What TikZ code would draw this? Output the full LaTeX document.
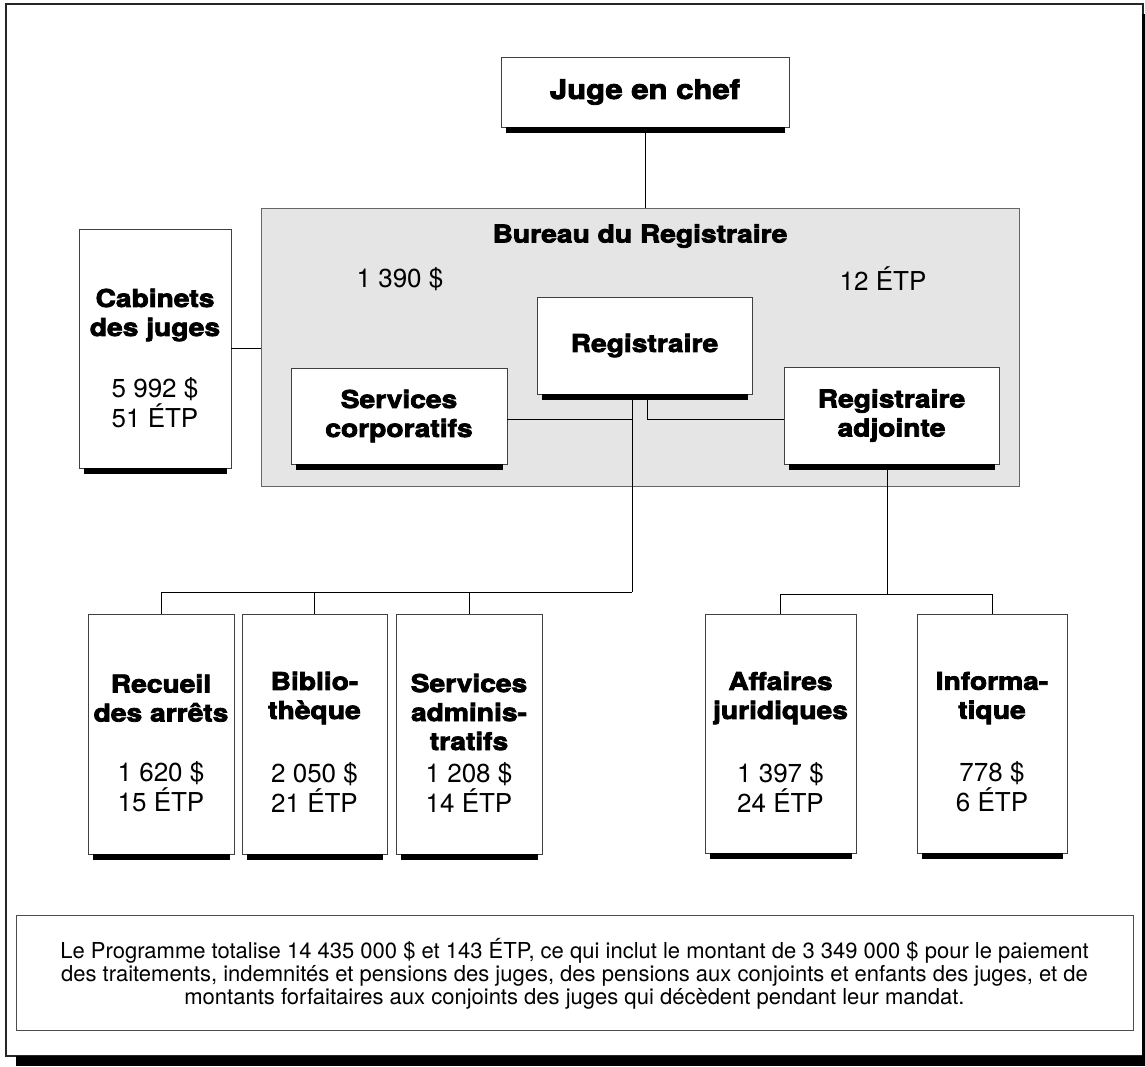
\documentclass[tikz,border=0pt]{standalone}
\usepackage{fontspec}
\setmainfont{TeX Gyre Heros}
\newfontfamily\heavy[FakeBold=3.2,FakeStretch=1.15]{texgyreheros-bold.otf}
\begin{document}
\begin{tikzpicture}[x=1pt,y=-1pt,
  box/.style={draw=black!75, fill=white, line width=0.8pt, inner sep=0pt},
  grp/.style={draw=black!60, fill=gray!20, line width=0.9pt, inner sep=0pt},
  ttl/.style={font=\heavy\fontsize{24.5}{29}\selectfont, align=center, inner sep=0pt},
  bigttl/.style={font=\heavy\fontsize{27}{30}\selectfont, align=center, inner sep=0pt},
  num/.style={font=\fontsize{26}{30}\selectfont, align=center, inner sep=0pt},
  notetxt/.style={font=\fontsize{22}{23}\selectfont, align=center, inner sep=0pt},
  link/.style={draw=black, line width=0.9pt},
  shadow/.style={fill=black}]
\useasboundingbox (0,0) rectangle (1145,1066);
% outer frame
\fill[white] (0,0) rectangle (1145,1066);
\draw[line width=1.2pt, draw=black!85] (6,4) rectangle (1143,1056);
\fill (16,1056) rectangle (1145,1066);
\fill (1142,14) rectangle (1145,1056);

% boxes
\node[box, minimum width=288pt, minimum height=70pt, bigttl] (juge) at (645,92) {Juge en chef};
\node[grp, minimum width=758pt, minimum height=278pt] (bur) at (640,347) {};
\node[box, minimum width=152pt, minimum height=239pt] (cab) at (155,348.5) {};
\node[box, minimum width=216pt, minimum height=96pt, ttl] (sc) at (399,416) {Services\\corporatifs};
\node[box, minimum width=215pt, minimum height=97pt, ttl] (reg) at (644.5,345.5) {Registraire};
\node[box, minimum width=215pt, minimum height=97pt, ttl] (adj) at (891.5,415.5) {Registraire\\adjointe};
\node[box, minimum width=146pt, minimum height=240pt] (rec) at (161,734) {};
\node[box, minimum width=145pt, minimum height=240pt] (bib) at (314.5,734) {};
\node[box, minimum width=146pt, minimum height=240pt] (sad) at (469,734) {};
\node[box, minimum width=151pt, minimum height=239pt] (aff) at (780.5,733.5) {};
\node[box, minimum width=150pt, minimum height=239pt] (inf) at (992,733.5) {};
\node[box, draw=black!70, minimum width=1117pt, minimum height=115pt] (note) at (574.5,972.5) {};

% shadows
\foreach \n in {juge,cab,sc,reg,adj,rec,bib,sad,aff,inf}{
  \fill[shadow] ([xshift=5pt]\n.south west) rectangle ([xshift=-4pt,yshift=-6pt]\n.south east);
}

% texts
\node[ttl] (burt) at (640,236) {Bureau du Registraire};
\node[num] (burm) at (400,279) {1 390 \$};
\node[num] (bure) at (883,279) {12 ÉTP};
\node[ttl] (cabt) at (155,315) {Cabinets\\des juges};
\node[num] (cabn) at (155,403) {5 992 \$\\51 ÉTP};
\node[ttl] (rect) at (161,698) {Recueil\\des arrêts};
\node[num] (recn) at (161,787) {1 620 \$\\15 ÉTP};
\node[ttl] (bibt) at (314.5,698) {Biblio-\\thèque};
\node[num] (bibn) at (314.5,787) {2 050 \$\\21 ÉTP};
\node[ttl] (sadt) at (469,712) {Services\\adminis-\\tratifs};
\node[num] (sadn) at (469,787) {1 208 \$\\14 ÉTP};
\node[ttl] (afft) at (780.5,698) {Affaires\\juridiques};
\node[num] (affn) at (780.5,787) {1 397 \$\\24 ÉTP};
\node[ttl] (inft) at (992,698) {Informa-\\tique};
\node[num] (infn) at (992,787) {778 \$\\6 ÉTP};
\node[notetxt] (notet) at (574.5,974) {Le Programme totalise 14 435 000 \$ et 143 ÉTP, ce qui inclut le montant de 3 349 000 \$ pour le paiement\\des traitements, indemnités et pensions des juges, des pensions aux conjoints et enfants des juges, et de\\montants forfaitaires aux conjoints des juges qui décèdent pendant leur mandat.};

% connectors
\coordinate (tA) at (632,419);
\coordinate (tB) at (632,592);
\coordinate (r2) at (647,419);
\coordinate (aB) at (887,594);
\draw[link] (juge.south) -- (juge.south |- bur.north);
\draw[link] (cab.east) -- (cab.east -| bur.west);
\draw[link] (sc.east |- tA) -- (tA);
\draw[link] (reg.south -| tA) -- (tB);
\draw[link] (reg.south -| r2) -- (r2) -- (r2 -| adj.west);
\draw[link] (adj.south -| aB) -- (aB);
\draw[link] (tB) -- (tB -| rec.north) -- (rec.north);
\draw[link] (tB -| bib.north) -- (bib.north);
\draw[link] (tB -| sad.north) -- (sad.north);
\draw[link] (aff.north) -- (aff.north |- aB) -- (inf.north |- aB) -- (inf.north);
\end{tikzpicture}
\end{document}
